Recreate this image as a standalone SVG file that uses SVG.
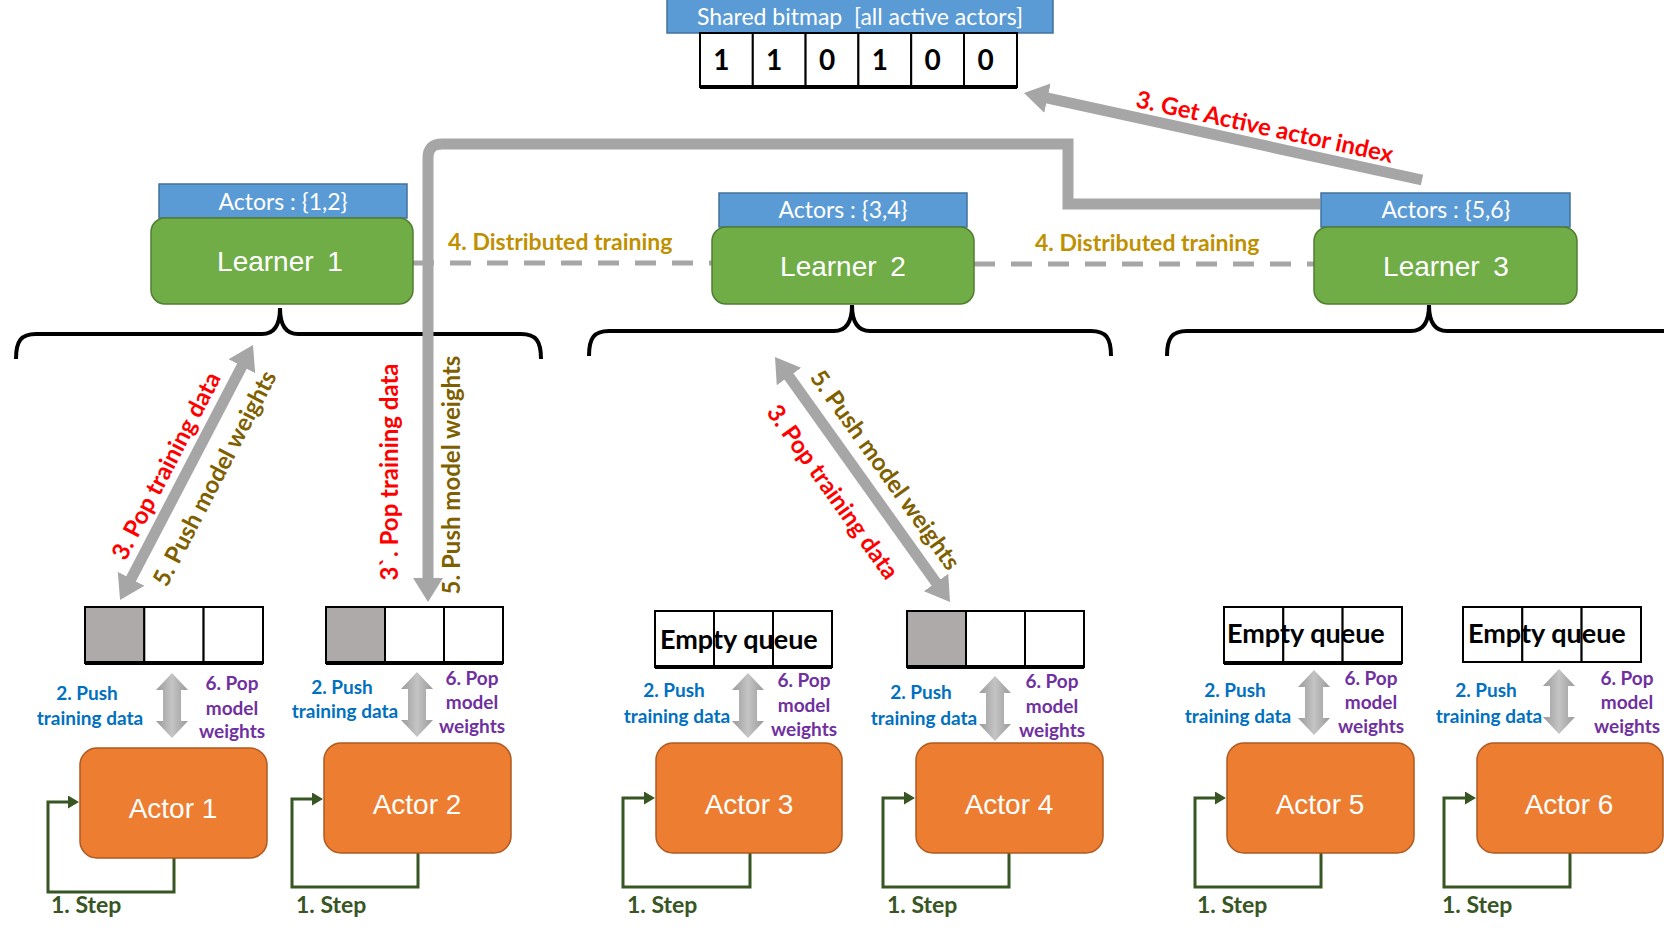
<svg xmlns="http://www.w3.org/2000/svg" xmlns:xlink="http://www.w3.org/1999/xlink" width="1664" height="949" viewBox="0 0 1664 949">
<style>
.hdr{fill:#5B9BD5;stroke:#41719C;stroke-width:1.5}
.hdrt{font-family:Lato,"Open Sans",sans-serif;font-size:23px;fill:#fff;text-anchor:middle}
.lrn{fill:#70AD47;stroke:#507E32;stroke-width:1.5}
.lrnt{font-family:"Liberation Sans",Arial,sans-serif;font-size:28px;fill:#fff;text-anchor:middle;word-spacing:6px}
.act{fill:#ED7D31;stroke:#AE5A21;stroke-width:1.5}
.actt{font-family:"Liberation Sans",Arial,sans-serif;font-size:28px;fill:#fff;text-anchor:middle}
.cell{fill:#fff;stroke:#000;stroke-width:2}
.cellg{fill:#AEAAAA;stroke:#000;stroke-width:2}
.qb{stroke:#000;stroke-width:4}
.eq{font-family:Lato,"Open Sans",sans-serif;font-weight:700;font-size:27px;fill:#000}
.lb{font-family:Lato,"Open Sans",sans-serif;font-weight:700}
.push{font-size:19px;fill:#0070C0;text-anchor:middle}
.pop{font-size:19px;fill:#7030A0;text-anchor:middle}
.step{font-size:23px;fill:#375623}
.loop{fill:none;stroke:#375623;stroke-width:3;marker-end:url(#ga)}
.gbar{fill:none;stroke:#A6A6A6;stroke-width:11}
.red{font-size:24px;fill:#FF0000}
.olive{font-size:24px;fill:#7F6000}
.gold{font-size:23px;fill:#BF9000}
.brace{fill:none;stroke:#000;stroke-width:4}
.dash{stroke:#A6A6A6;stroke-width:5;stroke-dasharray:21 16}
.bit{font-family:Lato,"Open Sans",sans-serif;font-weight:700;font-size:28px;text-anchor:middle;fill:#000}
.dbl{fill:url(#dg)}
</style>
<defs>
<marker id="gh" markerUnits="userSpaceOnUse" markerWidth="26" markerHeight="30" refX="2" refY="15" orient="auto-start-reverse">
<path d="M0,0 L24,15 L0,30 Z" fill="#A6A6A6"/>
</marker>
<marker id="ga" markerUnits="userSpaceOnUse" markerWidth="12" markerHeight="13" refX="2" refY="6.5" orient="auto">
<path d="M0,0 L11,6.5 L0,13 Z" fill="#375623"/>
</marker>
<linearGradient id="dg" x1="0" y1="0" x2="1" y2="0">
<stop offset="0" stop-color="#9A9A9A"/>
<stop offset="0.5" stop-color="#C4C4C4"/>
<stop offset="1" stop-color="#9A9A9A"/>
</linearGradient>
<path id="dblp" d="M0,0 L16,17 L9,17 L9,48 L16,48 L0,65 L-16,48 L-9,48 L-9,17 L-16,17 Z"/>
</defs>

<g id="bitmap">
<rect class="hdr" x="667" y="-1" width="386" height="34"/>
<text class="hdrt" x="860" y="25" xml:space="preserve">Shared bitmap  [all active actors]</text>
<rect class="cell" x="700" y="33" width="52.8" height="54"/>
<rect class="cell" x="752.8" y="33" width="52.8" height="54"/>
<rect class="cell" x="805.6" y="33" width="52.8" height="54"/>
<rect class="cell" x="858.4" y="33" width="52.8" height="54"/>
<rect class="cell" x="911.2" y="33" width="52.8" height="54"/>
<rect class="cell" x="964" y="33" width="53" height="54"/>
<line class="qb" x1="700" y1="87" x2="1017" y2="87"/>
<text class="bit" x="721.4" y="70">1</text>
<text class="bit" x="774.2" y="70">1</text>
<text class="bit" x="827" y="70">0</text>
<text class="bit" x="879.8" y="70">1</text>
<text class="bit" x="932.6" y="70">0</text>
<text class="bit" x="985.5" y="70">0</text>
</g>

<g id="connectors">
<line class="dash" x1="413" y1="263" x2="712" y2="263"/>
<line class="dash" x1="974" y1="264" x2="1314" y2="264"/>
<path class="brace" d="M16,359 C16,341 21,334 36,334 H262 C274,334 280,326 280,308 C280,326 286,334 298,334 H521 C536,334 541,341 541,359"/>
<path class="brace" d="M589,356 C589,338 594,331 609,331 H834 C846,331 852,323 852,305 C852,323 858,331 870,331 H1091 C1106,331 1111,338 1111,356"/>
<path class="brace" d="M1167,356 C1167,338 1172,331 1187,331 H1411 C1423,331 1429,323 1429,305 C1429,323 1435,331 1447,331 H1670"/>
<path class="gbar" d="M1320,204 H1068 V144 H442 Q428,144 428,158 V580" marker-end="url(#gh)"/>
<line class="gbar" x1="1422" y1="180" x2="1045.5" y2="97.7" marker-end="url(#gh)"/>
<line class="gbar" x1="242.8" y1="364.5" x2="130.2" y2="580.5" marker-start="url(#gh)" marker-end="url(#gh)"/>
<line class="gbar" x1="787.8" y1="374.9" x2="937.2" y2="584.1" marker-start="url(#gh)" marker-end="url(#gh)"/>
<path class="loop" d="M174,858 V892 H48 V802 H70"/>
<path class="loop" d="M418,853 V887 H292 V799 H314"/>
<path class="loop" d="M750,853 V887 H623 V798 H646"/>
<path class="loop" d="M1009,853 V887 H883 V798 H906"/>
<path class="loop" d="M1321,853 V887 H1195 V798 H1217"/>
<path class="loop" d="M1570,853 V887 H1444 V798 H1467"/>
<use class="dbl" href="#dblp" x="172" y="673"/>
<use class="dbl" href="#dblp" x="417" y="672"/>
<use class="dbl" href="#dblp" x="748" y="673"/>
<use class="dbl" href="#dblp" x="995" y="676"/>
<use class="dbl" href="#dblp" x="1314" y="670"/>
<use class="dbl" href="#dblp" x="1559" y="669"/>
</g>

<g id="edge-labels" class="lb">
<text class="gold" x="448" y="250">4. Distributed training</text>
<text class="gold" x="1035" y="251">4. Distributed training</text>
<text class="red" text-anchor="middle" transform="translate(1263,135) rotate(12.3)">3. Get Active actor index</text>
<text class="red" text-anchor="middle" transform="translate(173.5,469.7) rotate(-62.5)">3. Pop training data</text>
<text class="olive" text-anchor="middle" transform="translate(222,482) rotate(-62.5)">5. Push model weights</text>
<text class="red" text-anchor="middle" transform="translate(398,472) rotate(-90)">3`. Pop training data</text>
<text class="olive" text-anchor="middle" transform="translate(460,475) rotate(-90)">5. Push model weights</text>
<text class="olive" text-anchor="middle" transform="translate(878.5,474.7) rotate(54.5)">5. Push model weights</text>
<text class="red" text-anchor="middle" transform="translate(826,496.7) rotate(54.5)">3. Pop training data</text>
</g>

<g id="learner1">
<rect class="hdr" x="159" y="184" width="248" height="34"/>
<text class="hdrt" x="283" y="210">Actors : {1,2}</text>
<rect class="lrn" x="151" y="218" width="262" height="86" rx="14"/>
<text class="lrnt" x="280" y="271">Learner 1</text>
</g>
<g id="learner2">
<rect class="hdr" x="719" y="193" width="248" height="34"/>
<text class="hdrt" x="843" y="218">Actors : {3,4}</text>
<rect class="lrn" x="712" y="227" width="262" height="77" rx="14"/>
<text class="lrnt" x="843" y="276">Learner 2</text>
</g>
<g id="learner3">
<rect class="hdr" x="1321" y="193" width="249" height="34"/>
<text class="hdrt" x="1446" y="218">Actors : {5,6}</text>
<rect class="lrn" x="1314" y="227" width="263" height="77" rx="14"/>
<text class="lrnt" x="1446" y="276">Learner 3</text>
</g>

<g id="queue1">
<rect class="cellg" x="85" y="607" width="59.3" height="56"/>
<rect class="cell" x="144.3" y="607" width="59.3" height="56"/>
<rect class="cell" x="203.6" y="607" width="59.4" height="56"/>
<line class="qb" x1="85" y1="663" x2="263" y2="663"/>
</g>
<g id="queue2">
<rect class="cellg" x="326" y="607" width="59" height="56"/>
<rect class="cell" x="385" y="607" width="59" height="56"/>
<rect class="cell" x="444" y="607" width="59" height="56"/>
<line class="qb" x1="326" y1="663" x2="503" y2="663"/>
</g>
<g id="queue3">
<rect class="cell" x="655" y="611" width="59" height="56"/>
<rect class="cell" x="714" y="611" width="59" height="56"/>
<rect class="cell" x="773" y="611" width="59" height="56"/>
<line class="qb" x1="655" y1="667" x2="832" y2="667"/>
<text class="eq" x="660" y="649">Empty queue</text>
</g>
<g id="queue4">
<rect class="cellg" x="907" y="611" width="59" height="56"/>
<rect class="cell" x="966" y="611" width="59" height="56"/>
<rect class="cell" x="1025" y="611" width="59" height="56"/>
<line class="qb" x1="907" y1="667" x2="1084" y2="667"/>
</g>
<g id="queue5">
<rect class="cell" x="1224" y="607" width="59.3" height="56"/>
<rect class="cell" x="1283.3" y="607" width="59.3" height="56"/>
<rect class="cell" x="1342.6" y="607" width="59.4" height="56"/>
<line class="qb" x1="1224" y1="663" x2="1402" y2="663"/>
<text class="eq" x="1227" y="643">Empty queue</text>
</g>
<g id="queue6">
<rect class="cell" x="1463" y="607" width="59.3" height="55"/>
<rect class="cell" x="1522.3" y="607" width="59.3" height="55"/>
<rect class="cell" x="1581.6" y="607" width="59.4" height="55"/>
<text class="eq" x="1468" y="643">Empty queue</text>
</g>

<g id="queue-labels" class="lb">
<text class="push" x="87" y="700">2. Push</text>
<text class="push" x="90" y="725">training data</text>
<text class="pop" x="232" y="690">6. Pop</text>
<text class="pop" x="232" y="715">model</text>
<text class="pop" x="232" y="738">weights</text>
<text class="push" x="342" y="694">2. Push</text>
<text class="push" x="345" y="718">training data</text>
<text class="pop" x="472" y="685">6. Pop</text>
<text class="pop" x="472" y="709">model</text>
<text class="pop" x="472" y="733">weights</text>
<text class="push" x="674" y="697">2. Push</text>
<text class="push" x="677" y="723">training data</text>
<text class="pop" x="804" y="687">6. Pop</text>
<text class="pop" x="804" y="712">model</text>
<text class="pop" x="804" y="736">weights</text>
<text class="push" x="921" y="699">2. Push</text>
<text class="push" x="924" y="725">training data</text>
<text class="pop" x="1052" y="688">6. Pop</text>
<text class="pop" x="1052" y="713">model</text>
<text class="pop" x="1052" y="737">weights</text>
<text class="push" x="1235" y="697">2. Push</text>
<text class="push" x="1238" y="723">training data</text>
<text class="pop" x="1371" y="685">6. Pop</text>
<text class="pop" x="1371" y="709">model</text>
<text class="pop" x="1371" y="733">weights</text>
<text class="push" x="1486" y="697">2. Push</text>
<text class="push" x="1489" y="723">training data</text>
<text class="pop" x="1627" y="685">6. Pop</text>
<text class="pop" x="1627" y="709">model</text>
<text class="pop" x="1627" y="733">weights</text>
</g>

<g id="actor1">
<rect class="act" x="80" y="748" width="187" height="110" rx="17"/>
<text class="actt" x="173" y="818">Actor 1</text>
</g>
<g id="actor2">
<rect class="act" x="324" y="743" width="187" height="110" rx="17"/>
<text class="actt" x="417" y="814">Actor 2</text>
</g>
<g id="actor3">
<rect class="act" x="656" y="743" width="186" height="110" rx="17"/>
<text class="actt" x="749" y="814">Actor 3</text>
</g>
<g id="actor4">
<rect class="act" x="916" y="743" width="187" height="110" rx="17"/>
<text class="actt" x="1009" y="814">Actor 4</text>
</g>
<g id="actor5">
<rect class="act" x="1227" y="743" width="187" height="110" rx="17"/>
<text class="actt" x="1320" y="814">Actor 5</text>
</g>
<g id="actor6">
<rect class="act" x="1477" y="743" width="186" height="110" rx="17"/>
<text class="actt" x="1569" y="814">Actor 6</text>
</g>

<g id="step-labels" class="lb">
<text class="step" x="51" y="913">1. Step</text>
<text class="step" x="296" y="913">1. Step</text>
<text class="step" x="627" y="913">1. Step</text>
<text class="step" x="887" y="913">1. Step</text>
<text class="step" x="1197" y="913">1. Step</text>
<text class="step" x="1442" y="913">1. Step</text>
</g>
</svg>
